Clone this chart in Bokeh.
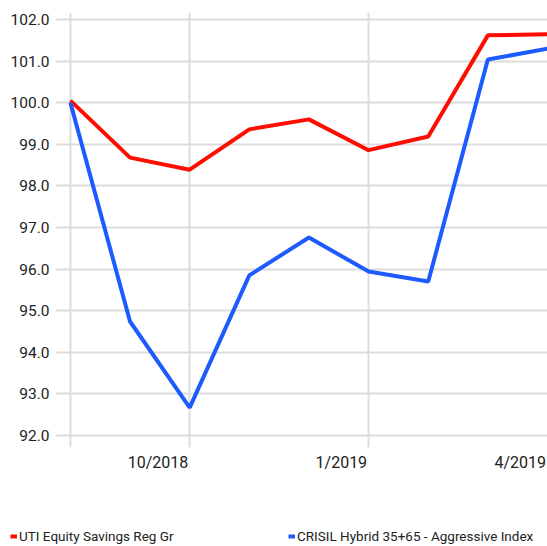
from bokeh.plotting import figure
from bokeh.models import Range1d, FixedTicker, Legend, LegendItem, NumeralTickFormatter
from bokeh.embed import file_html
from bokeh.resources import INLINE

months = ["8/2018", "9/2018", "10/2018", "11/2018", "12/2018", "1/2019", "2/2019", "3/2019", "4/2019"]
fund = [100.05, 98.68, 98.39, 99.36, 99.60, 98.86, 99.19, 101.62, 101.65]
index_ = [100.0, 94.74, 92.67, 95.85, 96.76, 95.94, 95.70, 101.04, 101.30]
fund_name = "UTI Equity Savings Reg Gr"
index_name = "CRISIL Hybrid 35+65 - Aggressive Index"
label_ticks = [2, 5, 8]
grid_ticks = [0, 2, 5, 8]
y_ticks = [92, 93, 94, 95, 96, 97, 98, 99, 100, 101, 102]

FONT = "Roboto"
RED, BLUE = "#ff0d00", "#1e5bff"
x = list(range(len(months)))

W, H, HL = 547, 480, 66
LEFT, TOP, BOTTOM = 55, 12, 33
x0, x1 = -0.25, 8
px_per_month = (W - LEFT) / (x1 - x0)

p = figure(width=W, height=H, output_backend="svg", toolbar_location=None,
           x_range=Range1d(x0, x1), y_range=Range1d(91.71, 102.17),
           min_border_left=LEFT, min_border_right=0, min_border_top=TOP, min_border_bottom=BOTTOM)
p.outline_line_color = None
p.background_fill_color = "white"

r1 = p.line(x, fund, line_color=RED, line_width=4)
r2 = p.line(x, index_, line_color=BLUE, line_width=4)

p.yaxis.ticker = FixedTicker(ticks=y_ticks)
p.yaxis.formatter = NumeralTickFormatter(format="0.0")

# labels are right-aligned to their gridline in the reference: shift each label tick left by half its width
char_w = {"/": 0.41}
def half_w(s, size=16):
    return sum(char_w.get(c, 0.562) for c in s) * size / 2 + 1.5
shifted = [round(t - half_w(months[t]) / px_per_month, 3) for t in label_ticks]
p.xaxis.ticker = FixedTicker(ticks=shifted)
p.xaxis.major_label_overrides = {s: months[t] for s, t in zip(shifted, label_ticks)}
p.xgrid.ticker = FixedTicker(ticks=grid_ticks)

for ax in (p.xaxis[0], p.yaxis[0]):
    ax.axis_line_color = None
    ax.major_tick_line_color = None
    ax.minor_tick_line_color = None
    ax.major_tick_out = 0
    ax.major_tick_in = 0
    ax.major_label_text_font = FONT
    ax.major_label_text_font_size = "16px"
    ax.major_label_text_color = "#222222"
p.yaxis.major_label_text_font_size = "15.5px"
p.yaxis.major_label_standoff = 6
p.xaxis.major_label_standoff = 5

for g in (p.xgrid[0], p.ygrid[0]):
    g.grid_line_color = "#dcdcdc"
    g.grid_line_width = 2

# legend strip below the chart (separate root, its frame spans the whole strip)
pl = figure(width=W, height=HL, output_backend="svg", toolbar_location=None,
            x_axis_location=None, y_axis_location=None,
            x_range=Range1d(0, 1), y_range=Range1d(0, 1), min_border=0,
            min_border_left=0, min_border_right=0, min_border_top=0, min_border_bottom=0)
pl.outline_line_color = None
pl.grid.visible = False
d1 = pl.line([-5, -4], [-5, -5], line_color=RED, line_width=4)
d2 = pl.line([-5, -4], [-5, -5], line_color=BLUE, line_width=4)
for r, name, loc in ((d1, fund_name, (10, 1)), (d2, index_name, (288, 1))):
    lg = Legend(items=[LegendItem(label=name, renderers=[r])], location=loc,
                glyph_width=7, glyph_height=18, label_standoff=2, padding=0, margin=0,
                label_text_font=FONT, label_text_font_size="13.5px", label_text_color="#222222",
                background_fill_alpha=0, border_line_alpha=0, label_height=18)
    pl.add_layout(lg, "center")

open("out.html", "w").write(file_html([p, pl], INLINE))
